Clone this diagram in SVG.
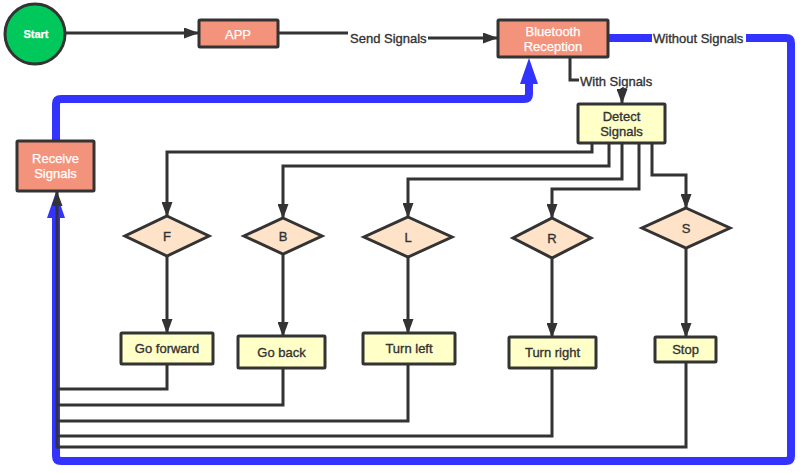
<svg xmlns="http://www.w3.org/2000/svg" width="800" height="473" viewBox="0 0 800 473">
<defs>
<marker id="ah" markerUnits="userSpaceOnUse" markerWidth="15" markerHeight="11" refX="14" refY="5.5" orient="auto">
<path d="M0,0 L15,5.5 L0,11 z" fill="#333"/>
</marker>
<style>
.n{stroke:#333;stroke-width:3}
.sal{fill:#f4937c}
.yel{fill:#ffffc8}
.dia{fill:#ffe3c9}
.c{fill:none;stroke:#333;stroke-width:3}
.b{fill:none;stroke:#3333ff;stroke-width:8;stroke-linejoin:round}
text{font-family:"Liberation Sans",Arial,sans-serif;font-size:13px;text-anchor:middle;fill:#333;stroke:#333;stroke-width:0.35}
.w{fill:#fff;stroke:#fff;stroke-width:0.25}
.lbl{text-anchor:start}
</style>
</defs>
<rect width="800" height="473" fill="#fff"/>
<g id="connectors">
<path class="b" d="M56,141 V104 Q56,99 61,99 H524 Q529,99 529,94 V82"/>
<polygon points="529,58 520,84 538,84" fill="#3333ff"/>
<path class="b" d="M609,38 H652"/>
<path class="b" d="M746,38 H786 Q791,38 791,43 V456 Q791,461 786,461 H61 Q56,461 56,456 V214"/>
<polygon points="56,192 47,218 65,218" fill="#3333ff"/>
<path class="c" d="M66,33 H198" marker-end="url(#ah)"/>
<path class="c" d="M278,33 H348"/>
<path class="c" d="M428,38 H497" marker-end="url(#ah)"/>
<path class="c" d="M570,57 V80 H579"/>
<path class="c" d="M622,88 V103" marker-end="url(#ah)"/>
<path class="c" d="M592,143 V152 H167 V216" marker-end="url(#ah)"/>
<path class="c" d="M609,143 V166 H283 V218" marker-end="url(#ah)"/>
<path class="c" d="M622,143 V179 H408 V217" marker-end="url(#ah)"/>
<path class="c" d="M639,143 V189 H552 V218" marker-end="url(#ah)"/>
<path class="c" d="M652,143 V175 H686 V208" marker-end="url(#ah)"/>
<path class="c" d="M167,256 V333" marker-end="url(#ah)"/>
<path class="c" d="M283,254 V336" marker-end="url(#ah)"/>
<path class="c" d="M408,257 V333" marker-end="url(#ah)"/>
<path class="c" d="M552,258 V337" marker-end="url(#ah)"/>
<path class="c" d="M686,248 V337" marker-end="url(#ah)"/>
<path class="c" d="M167,364 V389 H57"/>
<path class="c" d="M283,368 V405 H57"/>
<path class="c" d="M408,364 V421 H57"/>
<path class="c" d="M552,368 V436 H57"/>
<path class="c" d="M686,362 V447 H57 V192" marker-end="url(#ah)"/>
<text class="lbl" x="350" y="42.5">Send Signals</text>
<text class="lbl" x="653" y="42.5">Without Signals</text>
<text class="lbl" x="580" y="85.5">With Signals</text>
</g>
<g id="start">
<circle cx="35" cy="34" r="30" fill="#00c85a" class="n"/>
<text class="w" x="36" y="38" style="font-size:11px;font-weight:bold">Start</text>
</g>
<g id="app">
<rect x="199" y="20" width="79" height="27" rx="1" class="n sal"/>
<text class="w" x="238" y="38.5">APP</text>
</g>
<g id="bluetooth">
<rect x="498" y="20" width="110" height="37" rx="1" class="n sal"/>
<text class="w" x="553" y="35.5">Bluetooth</text>
<text class="w" x="553" y="50.5">Reception</text>
</g>
<g id="detect">
<rect x="578" y="104" width="87" height="39" rx="1" class="n yel"/>
<text x="621.5" y="120.5">Detect</text>
<text x="621.5" y="135.5">Signals</text>
</g>
<g id="receive">
<rect x="17" y="141" width="77" height="50" rx="1" class="n sal"/>
<text class="w" x="55.5" y="162.5">Receive</text>
<text class="w" x="55.5" y="177.5">Signals</text>
</g>
<g id="dF">
<polygon points="167,216 209,236 167,256 125,236" class="n dia"/>
<text x="167" y="240.5">F</text>
</g>
<g id="dB">
<polygon points="283,218 322,236 283,254 244,236" class="n dia"/>
<text x="283" y="240.5">B</text>
</g>
<g id="dL">
<polygon points="408,217 452,237 408,257 364,237" class="n dia"/>
<text x="408" y="241.5">L</text>
</g>
<g id="dR">
<polygon points="552,218 591,238 552,258 513,238" class="n dia"/>
<text x="552" y="242.5">R</text>
</g>
<g id="dS">
<polygon points="686,208 730,228 686,248 642,228" class="n dia"/>
<text x="686" y="232.5">S</text>
</g>
<g id="goforward">
<rect x="121" y="333" width="92" height="31" rx="1" class="n yel"/>
<text x="167" y="353">Go forward</text>
</g>
<g id="goback">
<rect x="238" y="336" width="87" height="32" rx="1" class="n yel"/>
<text x="281.5" y="356.5">Go back</text>
</g>
<g id="turnleft">
<rect x="363" y="333" width="92" height="31" rx="1" class="n yel"/>
<text x="409" y="353">Turn left</text>
</g>
<g id="turnright">
<rect x="509" y="337" width="87" height="31" rx="1" class="n yel"/>
<text x="552.5" y="357">Turn right</text>
</g>
<g id="stop">
<rect x="655" y="337" width="61" height="25" rx="1" class="n yel"/>
<text x="685.5" y="354">Stop</text>
</g>
</svg>
